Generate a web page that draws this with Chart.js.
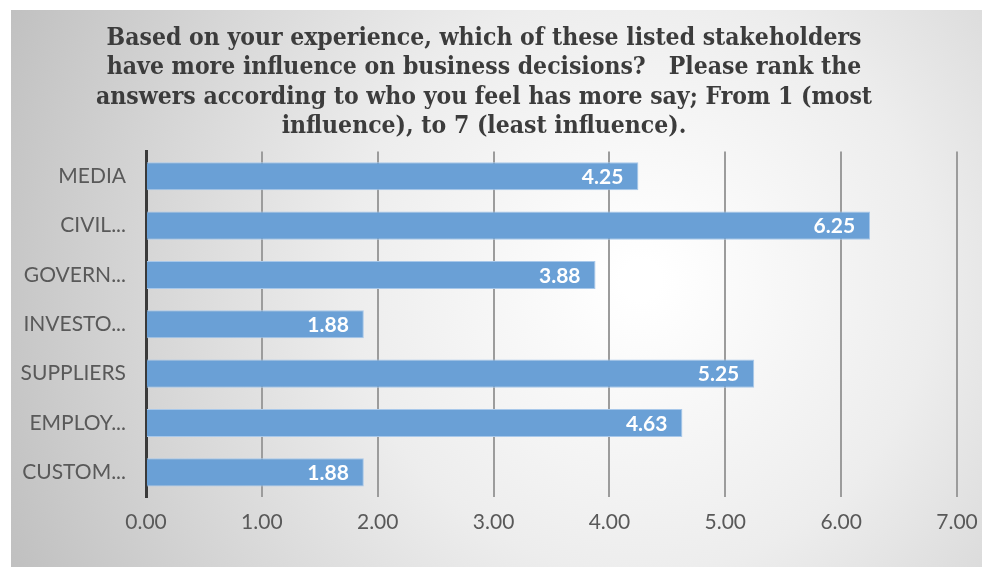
<!DOCTYPE html>
<html>
<head>
<meta charset="utf-8">
<script src="https://cdn.jsdelivr.net/npm/chart.js@4/dist/chart.umd.min.js"></script>
<style>
  html, body { margin: 0; padding: 0; background: #fff; }
  #wrap { position: absolute; left: 11px; top: 10px; width: 971px; height: 557px; }
</style>
</head>
<body>
<div id="wrap"><canvas id="ranking"></canvas></div>
<script>
// stakeholders ranked from 1 (most influence) to 7 (least influence)
const categorias = ['MEDIA', 'CIVIL...', 'GOVERN...', 'INVESTO...', 'SUPPLIERS', 'EMPLOY...', 'CUSTOM...'];
const mediaRanking = [4.25, 6.25, 3.88, 1.88, 5.25, 4.63, 1.88];
const titulo = [
    'Based on your experience, which of these listed stakeholders',
    'have more influence on business decisions?   Please rank the',
    'answers according to who you feel has more say; From 1 (most',
    'influence), to 7 (least influence).'
];

// fundo cinza com centro claro
const fundo = {
    id: 'fundo',
    beforeDraw(chart) {
        const { ctx, width, height } = chart;
        const g = ctx.createRadialGradient(630, 270, 20, 630, 270, 700);
        g.addColorStop(0, '#ffffff');
        g.addColorStop(0.4, '#ededed');
        g.addColorStop(1, '#bfbfbf');
        ctx.save();
        ctx.fillStyle = g;
        ctx.fillRect(0, 0, width, height);
        ctx.restore();
    }
};

// valores escritos dentro da ponta de cada barra
const rotulos = {
    id: 'rotulos',
    afterDatasetsDraw(chart) {
        const { ctx } = chart;
        const meta = chart.getDatasetMeta(0);
        ctx.save();
        ctx.font = 'bold 21px Lato, "Open Sans", sans-serif';
        ctx.fillStyle = '#ffffff';
        ctx.textAlign = 'right';
        ctx.textBaseline = 'middle';
        meta.data.forEach((bar, i) => {
            ctx.fillText(mediaRanking[i].toFixed(2), bar.x - 15, bar.y + 1);
        });
        ctx.restore();
    }
};

new Chart(document.getElementById('ranking'), {
    type: 'bar',
    data: {
        labels: categorias,
        datasets: [{
            data: mediaRanking,
            backgroundColor: '#6aa0d6',
            borderColor: '#a8c8ea',
            borderWidth: 1,
            barPercentage: 0.57,
            categoryPercentage: 1
        }]
    },
    options: {
        indexAxis: 'y',
        responsive: true,
        maintainAspectRatio: false,
        animation: false,
        layout: { padding: { left: 0, right: 25, top: 0, bottom: 0 } },
        plugins: {
            legend: { display: false },
            tooltip: { enabled: false },
            title: {
                display: true,
                text: titulo,
                color: '#3c3c3c',
                font: { family: '"DejaVu Serif Condensed", "DejaVu Serif", serif', size: 24.5, weight: 'bold', lineHeight: 1.2 },
                padding: { top: 14, bottom: 10 }
            }
        },
        scales: {
            x: {
                min: 0,
                max: 7,
                ticks: {
                    stepSize: 1,
                    color: '#595959',
                    font: { family: 'Lato, sans-serif', size: 21 },
                    padding: 13,
                    callback: v => Number(v).toFixed(2)
                },
                grid: { color: '#9c9c9c', lineWidth: 2, drawTicks: false },
                border: { display: false },
                afterFit(scale) {
                    scale.height = 70;
                    // a última etiqueta pode passar da margem direita
                    scale.paddingLeft = 0;
                    scale.paddingRight = 0;
                }
            },
            y: {
                ticks: {
                    color: '#595959',
                    font: { family: 'Lato, sans-serif', size: 21 },
                    padding: 20
                },
                grid: { display: false, drawTicks: false },
                border: { display: true, color: '#3a3a3a', width: 3 },
                afterFit(scale) { scale.width = 135; }
            }
        }
    },
    plugins: [fundo, rotulos]
});
</script>
</body>
</html>
